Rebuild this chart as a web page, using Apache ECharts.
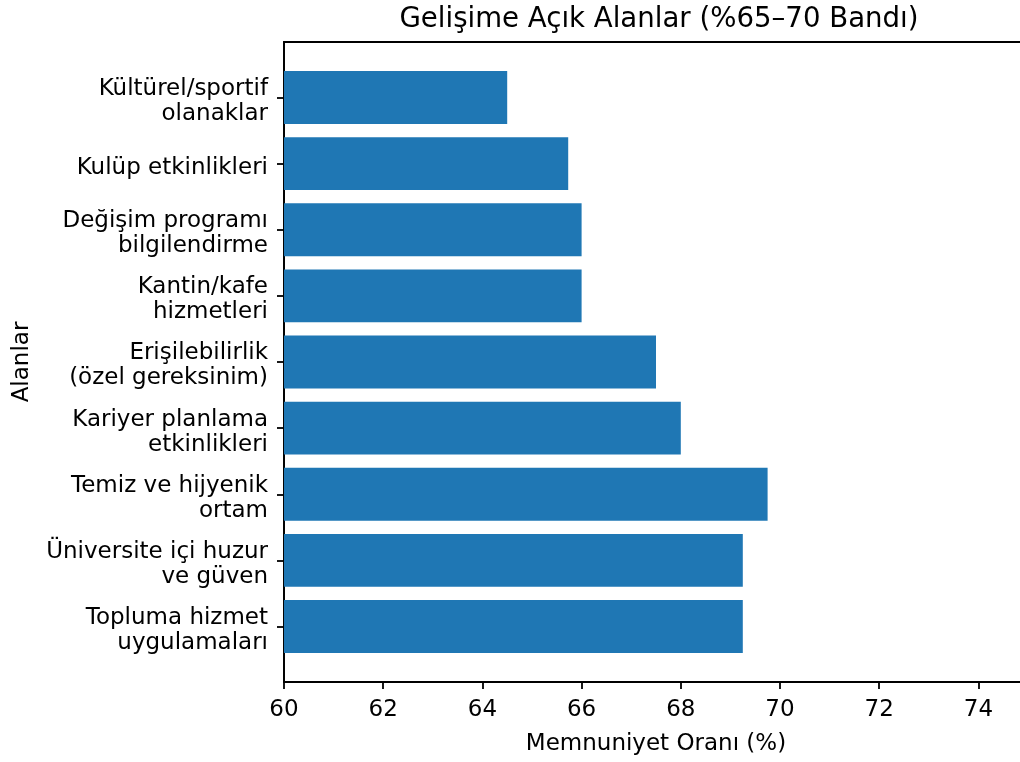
<!DOCTYPE html>
<html>
<head>
<meta charset="utf-8">
<script src="https://cdn.jsdelivr.net/npm/echarts@6/dist/echarts.min.js"></script>
<style>
html,body{margin:0;padding:0;background:#fff;}
#c{width:1020px;height:762px;}
</style>
</head>
<body>
<div id="c"></div>
<script>
// Data (bottom to top, as in the reference)
const categories = [
  'Topluma hizmet\nuygulamaları',
  'Üniversite içi huzur\nve güven',
  'Temiz ve hijyenik\nortam',
  'Kariyer planlama\netkinlikleri',
  'Erişilebilirlik\n(özel gereksinim)',
  'Kantin/kafe\nhizmetleri',
  'Değişim programı\nbilgilendirme',
  'Kulüp etkinlikleri',
  'Kültürel/sportif\nolanaklar'
];
const values = [69.25, 69.25, 69.75, 68.0, 67.5, 66.0, 66.0, 65.73, 64.5];
const xMin = 60, xMax = 75, xInterval = 2;
const titleText = 'Gelişime Açık Alanlar (%65–70 Bandı)';
const xName = 'Memnuniyet Oranı (%)';
const yName = 'Alanlar';

const FONT = 'DejaVu Sans';
const chart = echarts.init(document.getElementById('c'), null, {renderer: 'canvas'});
chart.setOption({
  animation: false,
  backgroundColor: '#fff',
  title: {
    text: titleText,
    left: 654, top: 1, textAlign: 'center',
    textStyle: {fontFamily: FONT, fontSize: 27.6, fontWeight: 'normal', color: '#000'}
  },
  grid: [
    {left: 284, right: -8, top: 42, bottom: 80, show: true, borderColor: '#000', borderWidth: 1.8,
     containLabel: false, outerBoundsMode: 'none'},
    {left: 284, right: -8, top: 64.4, bottom: 102.4, containLabel: false, outerBoundsMode: 'none'}
  ],
  xAxis: [
    {
      type: 'value', gridIndex: 0, min: xMin, max: xMax, interval: xInterval,
      name: xName, nameLocation: 'middle', nameGap: 51,
      nameTextStyle: {fontFamily: FONT, fontSize: 23, color: '#000'},
      axisLine: {show: true, lineStyle: {color: '#000', width: 1.8}},
      axisTick: {show: true, length: 7, lineStyle: {color: '#000', width: 1.8}},
      axisLabel: {fontFamily: FONT, fontSize: 23, color: '#000', margin: 17, showMaxLabel: false},
      splitLine: {show: false}
    },
    {
      type: 'value', gridIndex: 1, min: xMin, max: xMax, interval: xInterval, show: false
    }
  ],
  yAxis: [
    {
      type: 'value', gridIndex: 0, min: 0, max: 1, show: true,
      axisLine: {show: true, lineStyle: {color: '#000', width: 1.8}},
      axisTick: {show: false}, axisLabel: {show: false}, splitLine: {show: false}
    },
    {
      type: 'category', gridIndex: 1, data: categories,
      name: yName, nameLocation: 'middle', nameGap: 250, nameRotate: 90,
      nameTextStyle: {fontFamily: FONT, fontSize: 23, color: '#000'},
      axisLine: {show: false},
      axisTick: {show: true, alignWithLabel: true, length: 7, lineStyle: {color: '#000', width: 1.8}},
      axisLabel: {
        fontFamily: FONT, fontSize: 23, color: '#000', margin: 16, lineHeight: 25, align: 'right',
        formatter: function (v) {
          return '{pad|}\n' + v.split('\n').map(function (s) { return '{a|' + s + '}'; }).join('\n');
        },
        rich: {
          a: {fontFamily: FONT, fontSize: 23, color: '#000', lineHeight: 25},
          pad: {fontSize: 1, lineHeight: 8}
        }
      },
      splitLine: {show: false}
    }
  ],
  series: [{
    type: 'bar', xAxisIndex: 1, yAxisIndex: 1,
    data: values, barWidth: '80%',
    itemStyle: {color: '#1f77b4'}
  }]
});
</script>
</body>
</html>
